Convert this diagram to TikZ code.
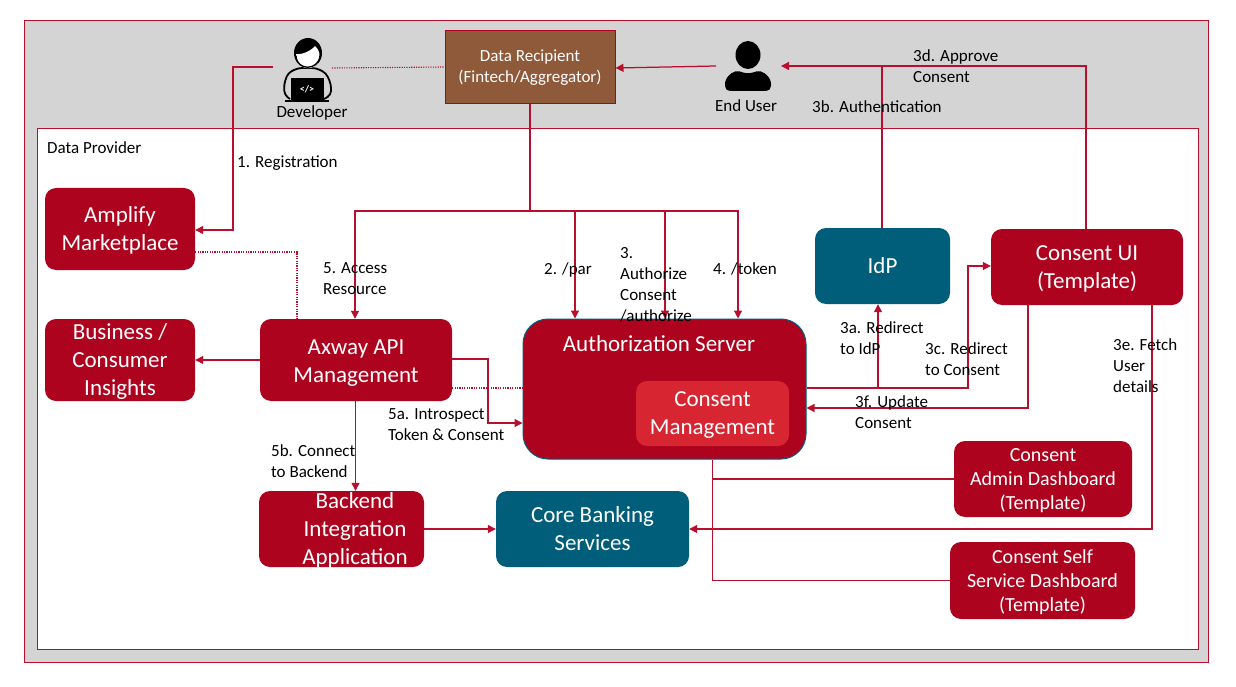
\documentclass[tikz,border=0pt]{standalone}
\usepackage{fontspec}
\setmainfont{Carlito}
\usetikzlibrary{arrows.meta,calc}
\definecolor{axred}{HTML}{AD031E}
\definecolor{lnred}{HTML}{B80F2D}
\definecolor{axteal}{HTML}{005E7A}
\definecolor{axbrown}{HTML}{8F5A3A}
\definecolor{axgray}{HTML}{D4D4D4}
\definecolor{axlight}{HTML}{D72532}
\newcommand{\boxat}[3]{\makebox[0pt][c]{\hspace*{#1}\raisebox{#2}[0pt][0pt]{\parbox[c]{230pt}{\centering\baselineskip=28pt #3}}}}
\newcommand{\boxtext}[1]{\boxat{0pt}{-8pt}{#1}}
\newcommand{\smalltext}[1]{\makebox[0pt][c]{\raisebox{-7pt}[0pt][0pt]{\parbox[c]{230pt}{\centering\baselineskip=24pt #1}}}}
\tikzset{
  rbox/.style={draw=none,fill=axred,rounded corners=11pt,text=white,inner sep=0pt,font=\fontsize{23}{28}\selectfont},
  sbox/.style={rbox,font=\fontsize{20}{24}\selectfont},
  tbox/.style={rbox,fill=axteal},
  lbl/.style={anchor=north west,inner sep=0pt,align=left,text=black,font=\fontsize{17}{21}\selectfont},
  conn/.style={draw=lnred,line width=1.25pt},
  arr/.style={conn,-{Triangle[length=8pt,width=8pt]}},
  dots/.style={draw=lnred,line width=1.1pt,dash pattern=on 1.2pt off 1.2pt},
}
\begin{document}
\begin{tikzpicture}[x=1pt,y=-1pt]
\useasboundingbox (0,0) rectangle (1236,687);
\fill[white] (0,0) rectangle (1236,687);
\node[draw=lnred,line width=1pt,fill=axgray,minimum width=1184pt,minimum height=641pt,inner sep=0pt] (outer) at (616,341.5) {};
\node[draw=lnred,line width=0.9pt,fill=white,minimum width=1161pt,minimum height=521pt,inner sep=0pt] (provider) at (617.5,388.5) {};

% boxes
\node[draw=axred,line width=1pt,fill=axbrown,text=white,minimum width=170pt,minimum height=73pt,inner sep=0pt,align=center,font=\fontsize{17}{21}\selectfont] (dr) at (530,67.5) {Data Recipient\\(Fintech/Aggregator)};
\node[rbox,minimum width=150pt,minimum height=82pt] (amp) at (120,229) {\boxtext{Amplify\\Marketplace}};
\node[rbox,minimum width=150pt,minimum height=82pt] (biz) at (120,360) {\boxtext{Business /\\Consumer\\Insights}};
\node[rbox,minimum width=192pt,minimum height=82pt] (axw) at (356,360) {\boxat{0pt}{-9pt}{Axway API\\Management}};
\node[rbox,draw=axteal,line width=1pt,rounded corners=25pt,minimum width=283pt,minimum height=140pt] (auth) at (664.5,389) {};
\node[text=white,inner sep=0pt,font=\fontsize{23}{28}\selectfont] (authlbl) at (659,344) {Authorization Server};
\node[rbox,fill=axlight,minimum width=153pt,minimum height=65pt] (cm) at (712.5,413.5) {\boxtext{Consent\\Management}};
\node[tbox,minimum width=135pt,minimum height=76pt] (idp) at (882.5,266) {IdP};
\node[rbox,minimum width=192pt,minimum height=76pt] (cui) at (1087,267) {\boxtext{Consent UI\\(Template)}};
\node[sbox,minimum width=178pt,minimum height=76pt] (adm) at (1043,479) {\smalltext{Consent\\Admin Dashboard\\(Template)}};
\node[sbox,minimum width=185pt,minimum height=77pt] (self) at (1042.5,580.5) {\smalltext{Consent Self\\Service Dashboard\\(Template)}};
\node[rbox,minimum width=165pt,minimum height=76pt] (be) at (341.5,529) {\boxat{27pt}{-8pt}{Backend\\Integration\\Application}};
\node[tbox,minimum width=193pt,minimum height=76pt] (core) at (592.5,529) {\boxat{0pt}{-6pt}{Core Banking\\Services}};

% anchors for free ends
\coordinate (devR) at (332,68);
\coordinate (devL) at (273,67);
\coordinate (euL) at (716,66);
\coordinate (euR) at (781,66);
\coordinate (bus) at (530,211);

% connectors
\draw[arr] (devL) -| (233,230) -- (amp.east |- 0,230);
\draw[dots] (devR) -- (dr.west |- 0,67);
\draw[arr] (euL) -- (dr.east |- 0,68);
\draw[arr] (cui.north -| 1086,0) |- (euR);
\draw[conn] (idp.north -| 882,0) -- (882,66);
\draw[conn,line width=1.7pt] (dr.south -| bus) -- (bus);
\draw[arr] (bus) -| (axw.north -| 355,0);
\draw[arr] (bus) -| (auth.north -| 575,0);
\draw[arr] (bus) -| (auth.north -| 665,0);
\draw[arr] (bus) -| (auth.north -| 738,0);
\draw[dots] (amp.east |- 0,252) -| (axw.north -| 297,0);
\draw[arr] (axw.west) -- (biz.east);
\draw[arr] (axw.east |- 0,359) -| (488,423) -- (auth.west |- 0,423);
\draw[dots] (axw.east |- 0,388) -- (auth.west |- 0,388);
\draw[arr] (axw.south -| 355.5,0) -- (be.north -| 355.5,0);
\draw[arr] (be.east) -- (core.west);
\draw[arr] (auth.east |- 0,388) -| (idp.south -| 878,0);
\draw[arr] (auth.east |- 0,388) -| (968,266) -- (cui.west |- 0,266);
\draw[arr] (cui.south -| 1028,0) |- (auth.east |- 0,408);
\draw[arr] (cui.south -| 1152,0) |- (core.east);
\draw[conn] (auth.south -| 712.5,0) |- (adm.west);
\draw[conn] (auth.south -| 712.5,0) |- (self.west);

% developer icon
\fill[black] (285,102) rectangle (329,100);
\draw[black,line width=1.8pt,rounded corners=4pt] (290,99) -- (284.5,95) -- (284,84) -- (288,73) -- (298,68) -- (316,68) -- (326,73) -- (331,84) -- (331,95) -- (324,99);
\fill[black] (291,78) rectangle (324,100);
\fill[black] (308,53) ellipse (14 and 15);
\fill[white] (296,54) .. controls (303,55) and (312,50) .. (315,46) .. controls (320,50) and (320,56) .. (319,60) .. controls (316,71) and (300,71) .. (297,60) -- cycle;
\draw[black,line width=1.3pt] (296,56) .. controls (297,71) and (318,71) .. (320,56);
\node[text=white,inner sep=0pt,font=\fontsize{10}{10}\selectfont\bfseries] (code) at (307,89) {</>};
\node[inner sep=0pt,text=black,font=\fontsize{17}{21}\selectfont] (devl) at (312,113) {Developer};

% end user icon
\fill[black] (748,55) ellipse (12.5 and 14);
\fill[black,rounded corners=5pt] (725,91) -- (725,79) -- (735,70) -- (748,74) -- (761,70) -- (771,79) -- (771,91) -- cycle;
\node[inner sep=0pt,text=black,font=\fontsize{17}{21}\selectfont] (eul) at (746,106) {End User};

% labels
\node[lbl] (dp) at (47,141) {Data Provider};
\node[lbl] (l1) at (237,155.5) {1. Registration};
\node[lbl] (l5) at (323,262.5) {5. Access\\Resource};
\node[lbl] (l2) at (544,262.5) {2. /par};
\node[lbl] (l3) at (620,247.5) {3.\\Authorize\\Consent\\/authorize};
\node[lbl] (l4) at (713,262.5) {4. /token};
\node[lbl] (l3d) at (913,49.5) {3d. Approve\\Consent};
\node[lbl] (l3b) at (812,100.5) {3b. Authentication};
\node[lbl] (l3a) at (840,321.5) {3a. Redirect\\to IdP};
\node[lbl] (l3c) at (925,342.5) {3c. Redirect\\to Consent};
\node[lbl] (l3e) at (1113,338.5) {3e. Fetch\\User\\details};
\node[lbl] (l3f) at (855,395.5) {3f. Update\\Consent};
\node[lbl] (l5a) at (388,408.5) {5a. Introspect\\Token \& Consent};
\node[lbl] (l5b) at (271,444.5) {5b. Connect\\to Backend};
\end{tikzpicture}
\end{document}
